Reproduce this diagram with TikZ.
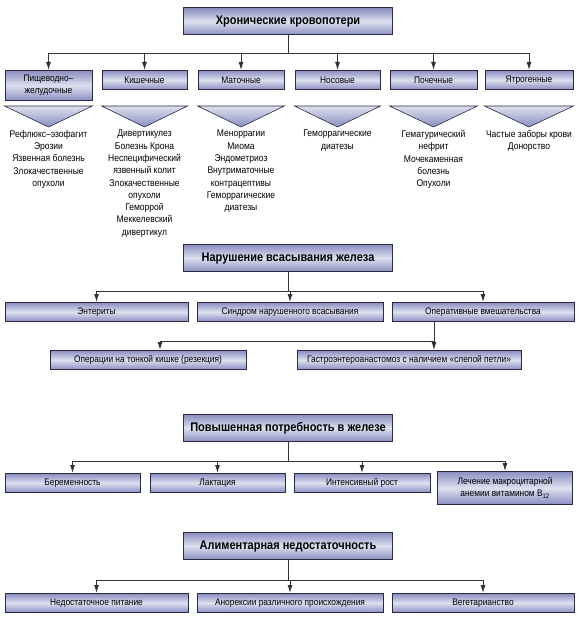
\documentclass[tikz,border=0pt]{standalone}
\usepackage{fontspec}
\setmainfont{Liberation Sans}[FakeStretch=0.88]
\usepackage{tikz}
\usetikzlibrary{positioning,arrows.meta}
\definecolor{BoxEdge}{HTML}{2A2A46}
\definecolor{BoxDark}{HTML}{8A8EBF}
\definecolor{BoxLight}{HTML}{DEE0F0}
\definecolor{LineGray}{HTML}{333333}
\tikzset{
  headbox/.style={draw=BoxEdge,line width=1pt,top color=BoxDark,bottom color=BoxDark,
    middle color=BoxLight,minimum width=209pt,minimum height=27pt,
    font=\fontsize{12.5}{15}\selectfont\bfseries,align=center,inner sep=2pt},
  itembox/.style={draw=BoxEdge,line width=0.9pt,top color=BoxDark,bottom color=BoxDark,
    middle color=BoxLight,minimum height=19pt,anchor=north,
    font=\fontsize{9.5}{12}\selectfont,align=center,inner sep=2pt},
  listtext/.style={anchor=north,font=\fontsize{9.7}{12.3}\selectfont,align=center,inner sep=0pt},
  funnel/.style={draw=BoxEdge,line width=0.6pt,top color=BoxLight,bottom color=BoxDark},
  bus/.style={draw=LineGray,line width=0.9pt},
  arr/.style={draw=LineGray,line width=0.9pt,-{Latex[length=8pt,width=5pt]}},
}

\begin{document}
\begin{tikzpicture}[x=1pt,y=-1pt]
  \useasboundingbox (0,0) rectangle (580,618);
  % chronic blood loss
  \node[headbox] (hk) at (288,21.5) {Хронические кровопотери};
  \node[itembox,minimum width=87pt,minimum height=30pt] (k1) at (48.5,70) {Пищеводно–\\желудочные};
  \node[itembox,minimum width=85pt] (k2) at (144.5,70) {Кишечные};
  \node[itembox,minimum width=86pt] (k3) at (241,70) {Маточные};
  \node[itembox,minimum width=85pt] (k4) at (337.5,70) {Носовые};
  \node[itembox,minimum width=87pt] (k5) at (433.5,70) {Почечные};
  \node[itembox,minimum width=88pt] (k6) at (529,70) {Ятрогенные};
  \draw[bus] (hk.south) -- (hk.south |- 0,53);
  \draw[bus] (k1.north |- 0,53) -- (k6.north |- 0,53);
  \foreach \k in {k1,k2,k3,k4,k5,k6} {
    \draw[arr] (\k.north |- 0,53) -- (\k.north);
    \shade[funnel] (\k.west |- 0,106) -- (\k.east |- 0,106) -- (\k.center |- 0,127) -- cycle;
  }
  \node[listtext] (l1) at (48.5,130) {Рефлюкс–эзофагит\\Эрозии\\Язвенная болезнь\\Злокачественные\\опухоли};
  \node[listtext] (l2) at (144.5,130) {Дивертикулез\\Болезнь Крона\\Неспецифический\\язвенный колит\\Злокачественные\\опухоли\\Геморрой\\Меккелевский\\дивертикул};
  \node[listtext] (l3) at (241,130) {Меноррагии\\Миома\\Эндометриоз\\Внутриматочные\\контрацептивы\\Геморрагические\\диатезы};
  \node[listtext] (l4) at (337.5,130) {Геморрагические\\диатезы};
  \node[listtext] (l5) at (433.5,130) {Гематурический\\нефрит\\Мочекаменная\\болезнь\\Опухоли};
  \node[listtext] (l6) at (529,130) {Частые заборы крови\\Донорство};

  % absorption
  \node[headbox] (nv) at (288,258) {Нарушение всасывания железа};
  \node[itembox,minimum width=183pt] (v1) at (96.5,302) {Энтериты};
  \node[itembox,minimum width=186pt] (v2) at (290,302) {Синдром нарушенного всасывания};
  \node[itembox,minimum width=182pt] (v3) at (483,302) {Оперативные вмешательства};
  \draw[bus] (nv.south) -- (nv.south |- 0,291);
  \draw[bus] (v1.north |- 0,291) -- (v3.north |- 0,291);
  \foreach \v in {v1,v2,v3}
    \draw[arr] (\v.north |- 0,291) -- (\v.north);
  \node[itembox,minimum width=196pt] (o1) at (148,350) {Операции на тонкой кишке (резекция)};
  \node[itembox,minimum width=224pt] (o2) at (409,350) {Гастроэнтероанастомоз с наличием «слепой петли»};
  \draw[bus] (v3.south -| 434,0) -- (434,341) -- (160,341);
  \draw[arr] (160,341) -- (o1.north -| 160,0);
  \draw[arr] (434,341) -- (o2.north -| 434,0);

  % demand
  \node[headbox] (pp) at (288,428) {Повышенная потребность в железе};
  \node[itembox,minimum width=135pt] (p1) at (72.5,473) {Беременность};
  \node[itembox,minimum width=135pt] (p2) at (217.5,473) {Лактация};
  \node[itembox,minimum width=136pt] (p3) at (362,473) {Интенсивный рост};
  \node[itembox,minimum width=135pt,minimum height=33pt] (p4) at (505,471) {Лечение макроцитарной\\анемии витамином B\textsubscript{12}};
  \draw[bus] (pp.south) -- (pp.south |- 0,461);
  \draw[bus] (p1.north |- 0,461) -- (p4.north |- 0,461);
  \foreach \p in {p1,p2,p3,p4}
    \draw[arr] (\p.north |- 0,461) -- (\p.north);

  % alimentary
  \node[headbox] (an) at (288,546) {Алиментарная недостаточность};
  \node[itembox,minimum width=183pt] (a1) at (96.5,593) {Недостаточное питание};
  \node[itembox,minimum width=186pt] (a2) at (290,593) {Анорексии различного происхождения};
  \node[itembox,minimum width=182pt] (a3) at (483,593) {Вегетарианство};
  \draw[bus] (an.south) -- (an.south |- 0,580);
  \draw[bus] (a1.north |- 0,580) -- (a3.north |- 0,580);
  \foreach \a in {a1,a2,a3}
    \draw[arr] (\a.north |- 0,580) -- (\a.north);
\end{tikzpicture}
\end{document}
